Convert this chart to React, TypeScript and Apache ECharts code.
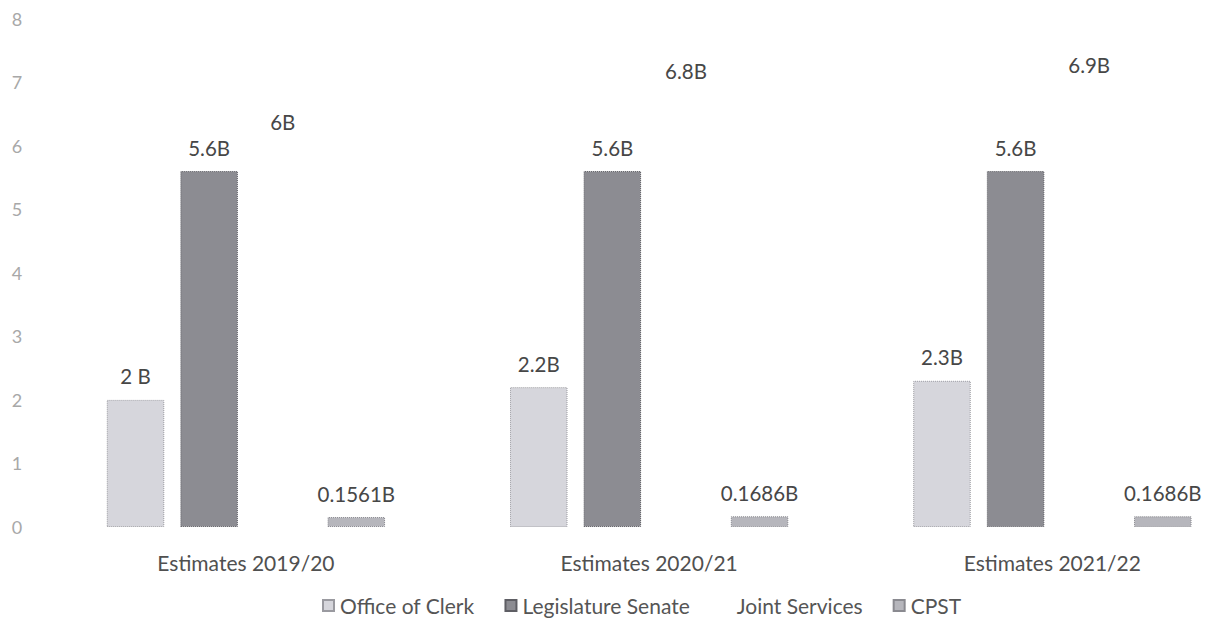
import React, { useEffect, useRef } from "react";
import * as echarts from "echarts";

// Budget estimates by fiscal year (billions)
const categories = ["Estimates 2019/20", "Estimates 2020/21", "Estimates 2021/22"];
const officeOfClerk = [2, 2.2, 2.3];
const legislatureSenate = [5.6, 5.6, 5.6];
const jointServices = [6, 6.8, 6.9];
const cpst = [0.1561, 0.1686, 0.1686];
const officeLabels = ["2 B", "2.2B", "2.3B"];
const yTicks = [0, 1, 2, 3, 4, 5, 6, 7, 8];

const FONT = "Lato";

export default function App() {
  const ref = useRef<HTMLDivElement>(null);

  useEffect(() => {
    if (!ref.current) return;
    const chart = echarts.init(ref.current, undefined, { renderer: "svg" });

    const label = (fmt: (p: any) => string) => ({
      show: true,
      position: "top",
      distance: 13,
      color: "#474747",
      fontFamily: FONT,
      fontSize: 20.5,
      formatter: fmt,
    });

    const bar = (name: string, data: number[], color: string, border: string, fmt: (p: any) => string) => ({
      name,
      type: "bar",
      data,
      barWidth: 57.5,
      barGap: "28%",
      itemStyle: { color, borderColor: border, borderWidth: border === "transparent" ? 0 : 1, borderType: "dotted" },
      label: label(fmt),
    });

    chart.setOption({
      animation: false,
      backgroundColor: "#ffffff",
      // the plot runs past the right edge of the visible frame
      grid: { left: 44.3, right: 0, top: 18.5, bottom: 96 },
      xAxis: {
        type: "category",
        data: categories,
        axisLine: { show: false },
        axisTick: { show: false },
        axisLabel: { color: "#505050", fontFamily: FONT, fontSize: 21, margin: 25 },
      },
      yAxis: {
        type: "value",
        min: yTicks[0],
        max: yTicks[yTicks.length - 1],
        interval: 1,
        axisLine: { show: false },
        axisTick: { show: false },
        splitLine: { show: false },
        axisLabel: { color: "#a8a8a8", fontFamily: FONT, fontSize: 18, margin: 22 },
      },
      legend: {
        bottom: 2,
        left: 317,
        itemWidth: 11,
        itemHeight: 11,
        itemGap: 30,
        icon: "rect",
        textStyle: { color: "#555", fontFamily: FONT, fontSize: 21, padding: [0, 0, 0, 1] },
        data: ["Office of Clerk", "Legislature Senate", "Joint Services", "CPST"],
      },
      series: [
        bar("Office of Clerk", officeOfClerk, "#d6d6dc", "#9a9aa0", (p) => officeLabels[p.dataIndex]),
        bar("Legislature Senate", legislatureSenate, "#8c8c92", "#5e5e64", (p) => `${p.value}B`),
        bar("Joint Services", jointServices, "rgba(255,255,255,0)", "transparent", (p) => `${p.value}B`),
        bar("CPST", cpst, "#b6b6bc", "#8a8a90", (p) => `${p.value}B`),
      ],
    });

    return () => chart.dispose();
  }, []);

  return (
    <div
      style={{ position: "fixed", left: 0, top: 0, width: 1215, height: 623, overflow: "hidden", background: "#fff" }}
    >
      <div ref={ref} style={{ width: 1254.4, height: 623 }} />
    </div>
  );
}
